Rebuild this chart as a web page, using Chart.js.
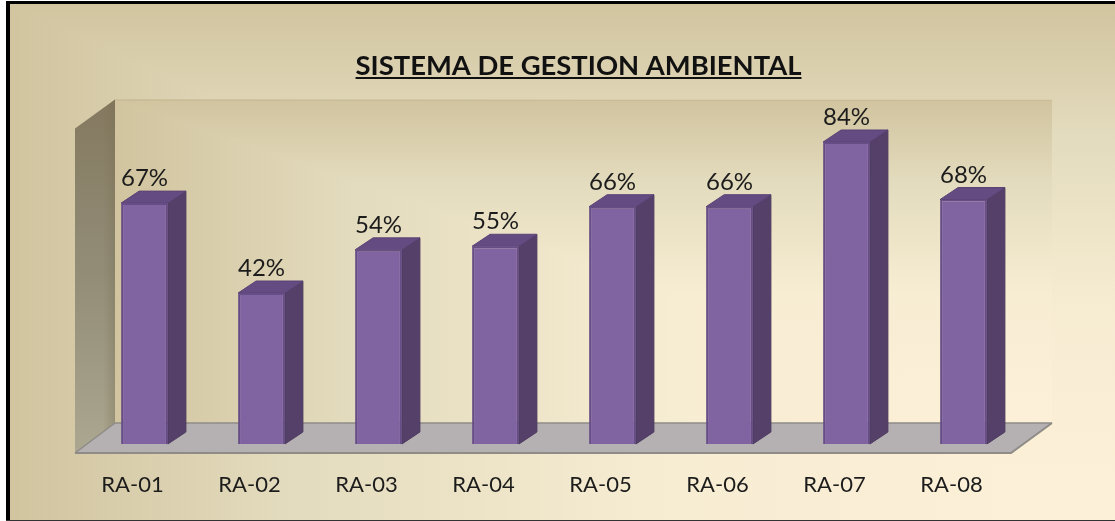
<!DOCTYPE html>
<html><head><meta charset="utf-8">
<style>html,body{margin:0;padding:0;background:#fff}canvas{display:block}</style>
<script src="https://cdn.jsdelivr.net/npm/chart.js@4"></script>
</head><body>
<canvas id="c" width="1115" height="521"></canvas>
<script>
const categories = ['RA-01','RA-02','RA-03','RA-04','RA-05','RA-06','RA-07','RA-08'];
const values = [67,42,54,55,66,66,84,68];
const titleText = 'SISTEMA DE GESTION AMBIENTAL';

const FONT = 'Lato';
const W = 1115, H = 521;
const TITLE_SIZE = 27.4;

function rectGradient(ctx, x0, y0, x1, y1, stops) {
  // rectangular gradient growing out of the bottom-right corner
  const vg = ctx.createLinearGradient(0, y0, 0, y1);
  const hg = ctx.createLinearGradient(x0, 0, x1, 0);
  stops.forEach(s => { vg.addColorStop(s[0], s[1]); hg.addColorStop(s[0], s[1]); });
  ctx.save();
  ctx.fillStyle = hg; ctx.fillRect(x0,y0,x1-x0,y1-y0);
  ctx.beginPath(); ctx.moveTo(x0,y0); ctx.lineTo(x1,y0); ctx.lineTo(x1,y1); ctx.closePath(); ctx.clip();
  ctx.fillStyle = vg; ctx.fillRect(x0,y0,x1-x0,y1-y0);
  ctx.restore();
}
function poly(ctx, pts, fill, stroke, lw) {
  ctx.beginPath();
  pts.forEach((p,i)=> i?ctx.lineTo(p[0],p[1]):ctx.moveTo(p[0],p[1]));
  ctx.closePath();
  ctx.fillStyle = fill; ctx.fill();
  if (stroke) { ctx.strokeStyle = stroke; ctx.lineWidth = lw||1; ctx.stroke(); }
}
const stops = [[0,'#d1c49f'],[0.25,'#e3dbbd'],[0.6,'#f7edd3'],[1,'#fdf0d8']];

const scene = {
  id:'scene',
  afterLayout(chart){
    // title sits over the 3D plot, not over the canvas
    chart.titleBlock.left = 42; chart.titleBlock.right = W;
  },
  beforeDraw(chart){
    const ctx = chart.ctx, a = chart.chartArea;
    ctx.save();
    ctx.fillStyle = '#fff'; ctx.fillRect(0,0,W,H);
    rectGradient(ctx, 8, 3, W, 520, stops);
    // frame
    ctx.fillStyle = '#000';
    ctx.fillRect(6,1,W-6,3);
    ctx.fillRect(6,1,4,H-1);
    ctx.fillStyle = '#333';
    ctx.fillRect(6,520,W-6,1);

    const base = chart.scales.y.getPixelForValue(0);
    const top = chart.scales.y.getPixelForValue(100);
    const fx0 = a.left-11, fx1 = a.right-11, fy = base+9;   // front edge of floor
    const bx0 = fx0+40, bx1 = fx1+41, by = fy-30;           // back edge of floor
    const wallTop = top+15, wallFrontTop = wallTop+29;

    // back wall
    rectGradient(ctx, bx0, wallTop, bx1, by, stops);
    ctx.fillStyle = 'rgba(170,155,115,.35)';
    ctx.fillRect(bx0, wallTop, bx1-bx0, 1);
    // side wall
    const g = ctx.createLinearGradient(0, wallTop, 0, fy);
    g.addColorStop(0,'#84795f'); g.addColorStop(.5,'#938d78'); g.addColorStop(1,'#aca790');
    poly(ctx, [[fx0,wallFrontTop],[bx0,wallTop],[bx0,by],[fx0,fy]], g);
    const g2 = ctx.createLinearGradient(fx0, 0, bx0, 0);
    g2.addColorStop(0,'rgba(120,110,80,0)'); g2.addColorStop(.7,'rgba(120,110,80,0)'); g2.addColorStop(1,'rgba(120,110,80,.35)');
    poly(ctx, [[fx0,wallFrontTop],[bx0,wallTop],[bx0,by],[fx0,fy]], g2);
    // floor
    poly(ctx, [[fx0,fy],[bx0,by],[bx1,by],[fx1,fy]], '#b5b0b2');
    ctx.strokeStyle='#8f8c88'; ctx.lineWidth=2;
    ctx.beginPath(); ctx.moveTo(fx0,fy); ctx.lineTo(fx1,fy); ctx.lineTo(bx1,by); ctx.stroke();
    ctx.lineWidth=1.5;
    ctx.beginPath(); ctx.moveTo(fx0,fy); ctx.lineTo(bx0,by); ctx.lineTo(bx1,by); ctx.stroke();
    ctx.restore();
  },
  beforeDatasetsDraw(chart){
    const ctx = chart.ctx, dx = 18, dy = -12;
    ctx.save();
    chart.getDatasetMeta(0).data.forEach(b=>{
      const l = b.x-b.width/2, r = b.x+b.width/2, t = b.y, bt = b.base;
      poly(ctx, [[r,t],[r+dx,t+dy],[r+dx,bt+dy],[r,bt]], '#544068', '#4c3a60', 1);
      poly(ctx, [[l,t],[l+dx,t+dy],[r+dx,t+dy],[r,t]], '#644b81', '#5a4375', 1);
    });
    ctx.restore();
  },
  afterDatasetsDraw(chart){
    const ctx = chart.ctx;
    ctx.save();
    ctx.fillStyle = '#1c1c1c';
    ctx.font = '24px '+FONT;
    ctx.textAlign = 'center'; ctx.textBaseline = 'alphabetic';
    chart.getDatasetMeta(0).data.forEach((b,i)=>{
      ctx.fillText(values[i]+'%', b.x, b.y-17);
    });
    ctx.restore();
  },
  afterDraw(chart){
    const ctx = chart.ctx;
    ctx.save();
    ctx.font = 'bold '+TITLE_SIZE+'px '+FONT;
    const w = ctx.measureText(titleText).width, cx = (chart.titleBlock.left+chart.titleBlock.right)/2;
    ctx.fillStyle = '#111';
    ctx.fillRect(cx-w/2, 77, w, 2);
    ctx.restore();
  }
};

new Chart(document.getElementById('c'), {
  type:'bar',
  data:{labels:categories, datasets:[{
    data:values,
    backgroundColor:'#8063a1',
    borderColor:'#664d86',
    borderWidth:2,
    barPercentage:0.4,
    categoryPercentage:1
  }]},
  options:{
    responsive:false, animation:false,
    layout:{padding:{left:86,right:93,top:0,bottom:0}},
    plugins:{
      legend:{display:false}, tooltip:{enabled:false},
      title:{display:true,text:titleText,color:'#111',
        font:{family:FONT,size:TITLE_SIZE,weight:'bold',lineHeight:1.2},
        padding:{top:49.5,bottom:2.1}}
    },
    scales:{
      y:{display:false,min:0,max:100},
      x:{
        grid:{display:false,drawTicks:false},
        border:{display:false},
        afterFit(s){ s.height = 77; },
        ticks:{color:'#1c1c1c',font:{family:FONT,size:22},padding:28,labelOffset:-12,autoSkip:false,maxRotation:0}
      }
    }
  },
  plugins:[scene]
});
</script>
</body></html>
